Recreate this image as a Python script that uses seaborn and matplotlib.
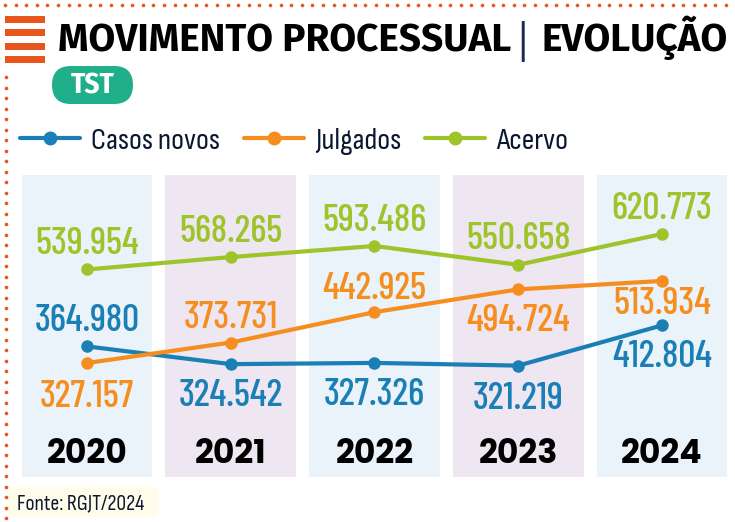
import matplotlib
matplotlib.use("Agg")
import matplotlib.pyplot as plt
import numpy as np
import pandas as pd
import seaborn as sns
from matplotlib.lines import Line2D
from matplotlib.patches import Rectangle, FancyBboxPatch

# ---------------- data ----------------
anos = ["2020", "2021", "2022", "2023", "2024"]
series = ["Casos novos", "Julgados", "Acervo"]
casos_novos = [364980, 324542, 327326, 321219, 412804]
julgados = [327157, 373731, 442925, 494724, 513934]
acervo = [539954, 568265, 593486, 550658, 620773]

# label vertical offsets in pixels (positive = above point)
off_casos = [15, -42, -42, -43, -42]
off_julgados = [-44, 15, 13, -42, -33]
off_acervo = [15, 15, 15, 16, 15]

W, H = 735, 522
C_BLUE = "#1A7FB5"
C_ORANGE = "#F58E1F"
C_GREEN = "#9DC42A"
C_DOT = "#E9561D"
P_BLUE = "#EAF2FA"
P_PURPLE = "#EEE7F2"

sns.set_theme(style="white")
plt.rcParams["font.family"] = ["DejaVu Sans"]

FONT_VAL = ["Barlow Condensed", "DejaVu Sans"]
FONT_LEG = ["Sofia Sans Condensed", "DejaVu Sans"]
FONT_YEAR = ["Poppins", "DejaVu Sans"]
FONT_TITLE = ["Fira Sans", "DejaVu Sans"]

fig = plt.figure(figsize=(W / 100, H / 100), dpi=100)
fig.patch.set_facecolor("white")
renderer = fig.canvas.get_renderer()


def fx(x):
    return x / W


def fy(y):
    return 1 - y / H


def fit(t, width_px):
    bb = t.get_window_extent(renderer)
    t.set_fontsize(t.get_fontsize() * width_px / bb.width)
    return t.get_fontsize()


# ---------------- main axes ----------------
ax = fig.add_axes([fx(21), fy(477), (730 - 21) / W, (477 - 175) / H])
ax.set_xlim(-0.459, 4.473)
ax.set_ylim(67700, 755000)
ax.axis("off")

for i in range(len(anos)):
    ax.axvspan(i - 0.455, i + 0.455, color=P_BLUE if i % 2 == 0 else P_PURPLE, zorder=0, lw=0)

df = pd.DataFrame({
    "pos": list(range(len(anos))) * 3,
    "ano": anos * 3,
    "serie": [s for s in series for _ in anos],
    "valor": casos_novos + julgados + acervo,
})
palette = {"Casos novos": C_BLUE, "Julgados": C_ORANGE, "Acervo": C_GREEN}
sns.lineplot(data=df, x="pos", y="valor", hue="serie", palette=palette, marker="o",
             markersize=9, markeredgewidth=0, linewidth=3, ax=ax, legend=False, zorder=3)

# value labels
probe = ax.text(0, 0, "539.954", fontsize=20, family=FONT_VAL, weight="medium")
val_fs = fit(probe, 103)
probe.remove()
for vals, offs, col in [(casos_novos, off_casos, C_BLUE), (julgados, off_julgados, C_ORANGE),
                        (acervo, off_acervo, C_GREEN)]:
    for i, (v, o) in enumerate(zip(vals, offs)):
        lab = f"{v:,}".replace(",", ".")
        ax.annotate(lab, (i, v), xytext=(0, o * 0.72), textcoords="offset points", ha="center",
                    va="baseline", fontsize=val_fs, family=FONT_VAL, weight="medium",
                    color=col, zorder=4)

# year labels
probe = ax.text(0, 0, "2020", fontsize=20, family=FONT_YEAR, weight="bold")
yr_fs = fit(probe, 81)
probe.remove()
for i, a in enumerate(anos):
    ax.text(i, 14 / 302, a, transform=ax.get_xaxis_transform(), ha="center", va="baseline",
            fontsize=yr_fs, family=FONT_YEAR, weight="bold", color="black", zorder=4)

# ---------------- legend ----------------
probe = fig.text(0, 0, "Casos novos", fontsize=20, family=FONT_LEG, weight="normal")
leg_fs = fit(probe, 129)
probe.remove()
handles = [Line2D([], [], color=palette[s], lw=3, marker="o", markersize=10, markeredgewidth=0)
           for s in series]
em = leg_fs / 0.72
leg = fig.legend(handles, series, loc="center left", bbox_to_anchor=(fx(20), fy(141)),
                 ncol=3, frameon=False, handlelength=60 / em,
                 handletextpad=11 / em, columnspacing=24 / em, borderpad=0, borderaxespad=0,
                 prop={"family": FONT_LEG, "size": leg_fs})
for t in leg.get_texts():
    t.set_color("#0B1630")

# ---------------- title ----------------
t1 = fig.text(fx(58), fy(51), "MOVIMENTO PROCESSUAL", fontsize=26, family=FONT_TITLE,
              weight="bold", color="black", ha="left", va="baseline")
ts = fit(t1, 454)
t2 = fig.text(fx(728), fy(51), "EVOLUÇÃO", fontsize=ts, family=FONT_TITLE,
              weight="bold", color="black", ha="right", va="baseline")
fig.text(fx(522), fy(55), "|", fontsize=ts * 1.05, family=FONT_LEG, weight="light",
         color="#1A2A50", ha="center", va="baseline")

# stripes icon
for y0 in [16, 29, 43, 56]:
    fig.patches.append(Rectangle((fx(5), fy(y0 + 7)), 40 / W, 7 / H, transform=fig.transFigure,
                                 color=C_DOT, lw=0))

# dotted border
xs = np.arange(5, 732, 10.6)
fig.add_artist(Line2D(fx(xs), fy(np.full_like(xs, 5)), ls="none", marker="o", markersize=2.6,
                      color=C_DOT, markeredgewidth=0))
ys = np.arange(77, 520, 10.5)
fig.add_artist(Line2D(fx(np.full_like(ys, 6)), fy(ys), ls="none", marker="o", markersize=2.6,
                      color=C_DOT, markeredgewidth=0))

# TST pill
pill = FancyBboxPatch((52, H - 104), 81, 38, boxstyle="round,pad=0,rounding_size=19",
                      transform=None, lw=0, color="#1FAF8B")
fig.patches.append(pill)
fig.text(fx(93), fy(86), "TST", fontsize=21, family=["Fira Sans Condensed", "DejaVu Sans"],
         weight="bold", color="white", ha="center", va="center")

# source box
src = FancyBboxPatch((7, H - 517), 152, 30, boxstyle="round,pad=0,rounding_size=9",
                     transform=None, lw=0, color="#FFFCEA")
fig.patches.append(src)
st = fig.text(fx(17), fy(509), "Fonte: RGJT/2024", fontsize=12, family=FONT_LEG,
              color="#0B1630", ha="left", va="baseline")
fit(st, 128)

fig.savefig("out.png", dpi=100)
